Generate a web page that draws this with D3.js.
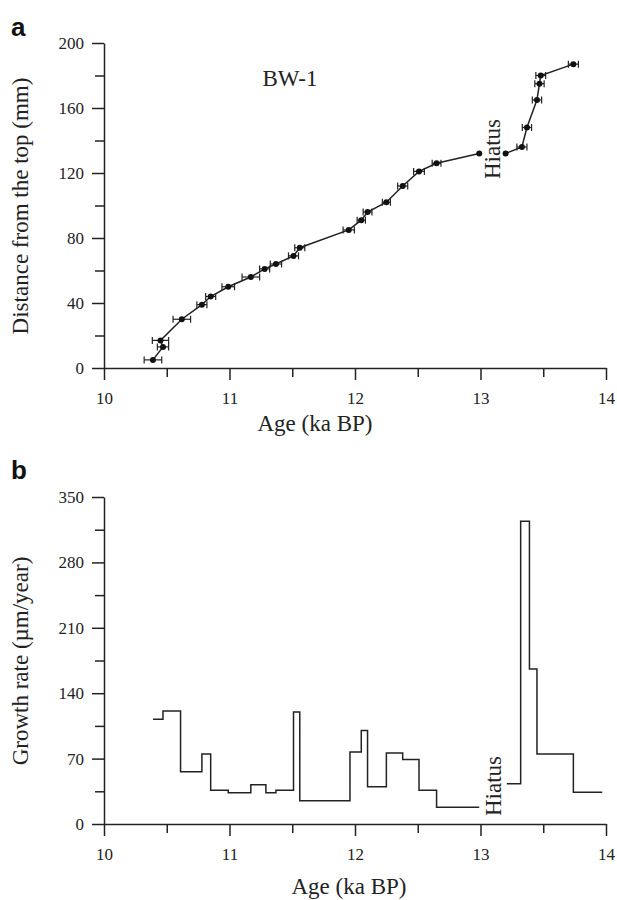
<!DOCTYPE html>
<html>
<head>
<meta charset="utf-8">
<script src="https://cdn.jsdelivr.net/npm/d3@7"></script>
<style>
body {margin:0; background:#fff;}
.axis path, .axis line {stroke:#222; stroke-width:1.5px; fill:none;}
.axis text {font-family:'Liberation Serif',serif; font-size:17px; fill:#222;}
.label {font-family:'Liberation Serif',serif; font-size:23px; fill:#222;}
.panel {font-family:'Liberation Sans',Arial,sans-serif; font-weight:bold; font-size:26px; fill:#111;}
.curve {fill:none; stroke:#222; stroke-width:1.5px;}
.errbar {stroke:#222; stroke-width:1.2px;}
</style>
</head>
<body>
<div id="chart"></div>
<script>
// panel a : age model (BW-1)
var ageA   = [10.39, 10.47, 10.45, 10.62, 10.78, 10.85, 10.99, 11.17, 11.28, 11.37, 11.51, 11.56, 11.95, 12.05, 12.10, 12.25, 12.38, 12.51, 12.65, 12.99, 13.20, 13.33, 13.37, 13.45, 13.47, 13.48, 13.74]
var depthA = [5, 13, 17, 30, 39, 44, 50, 56, 61, 64, 69, 74, 85, 91, 96, 102, 112, 121, 126, 132, 132, 136, 148, 165, 175, 180, 187]
var errA   = [0.07, 0.045, 0.065, 0.07, 0.04, 0.04, 0.05, 0.07, 0.04, 0.045, 0.04, 0.04, 0.045, 0.033, 0.035, 0.032, 0.04, 0.043, 0.035, 0, 0, 0.04, 0.037, 0.037, 0.037, 0.039, 0.04]
var hiatusIndex = 20   // first point after the hiatus

// panel b : growth rate steps, rateB[i] holds from breaksB[i] to breaksB[i+1]
var breaksB = [10.39, 10.47, 10.61, 10.78, 10.85, 10.99, 11.17, 11.29, 11.37, 11.51, 11.56, 11.96, 12.05, 12.10, 12.25, 12.38, 12.51, 12.65, 12.99, 13.21, 13.32, 13.39, 13.45, 13.74, 13.97]
var rateB   = [112, 121, 56, 75, 36, 33.5, 42, 33.5, 36, 120, 25, 77, 100, 40, 76, 69, 36, 18, null, 43, 324, 166, 75, 34]

var xTicks  = [10, 10.5, 11, 11.5, 12, 12.5, 13, 13.5, 14]
var yTicksA = [0, 20, 40, 60, 80, 100, 120, 140, 160, 180, 200]
var yTicksB = [0, 35, 70, 105, 140, 175, 210, 245, 280, 315, 350]

var xAxisLabel = 'Age (ka BP)'
var yAxisLabelA = 'Distance from the top (mm)'
var yAxisLabelB = 'Growth rate (\u00b5m/year)'

var svg = d3.select('#chart')
            .append('svg')
            .attr('width', 617)
            .attr('height', 900);

var left = 104, right = 606;

function DrawXAxis(g, xScale, y0) {
    var ax = g.append('g')
        .attr('class', 'x axis')
        .attr('transform', 'translate(0,' + y0 + ')')
        .call(d3.axisBottom(xScale).tickValues(xTicks).tickSize(12).tickPadding(12).tickSizeOuter(0)
              .tickFormat(function(d) { return d % 1 === 0 ? d : ''; }));
    ax.selectAll('.tick line').attr('y2', function(d) { return d % 1 === 0 ? 12 : 9; });
}

function DrawYAxis(g, yScale, ticks, major) {
    var ax = g.append('g')
        .attr('class', 'y axis')
        .attr('transform', 'translate(' + left + ',0)')
        .call(d3.axisLeft(yScale).tickValues(ticks).tickSize(12).tickPadding(8).tickSizeOuter(0)
              .tickFormat(function(d) { return d % major === 0 ? d : ''; }));
    ax.selectAll('.tick line').attr('x2', function(d) { return d % major === 0 ? -12 : -9; });
}

function DrawPanelA() {
    var xScale = d3.scaleLinear().domain([10, 14]).range([left, right]);
    var yScale = d3.scaleLinear().domain([0, 200]).range([368, 43]);
    var g = svg.append('g');

    DrawXAxis(g, xScale, 368);
    DrawYAxis(g, yScale, yTicksA, 40);

    var points = ageA.map(function(a, i) { return {age: a, depth: depthA[i], err: errA[i], idx: i}; });
    var line = d3.line()
        .x(function(d) { return xScale(d.age); })
        .y(function(d) { return yScale(d.depth); });

    g.append('path').attr('class', 'curve').attr('d', line(points.slice(0, hiatusIndex)));
    g.append('path').attr('class', 'curve').attr('d', line(points.slice(hiatusIndex)));

    var bars = g.selectAll('.err')
        .data(points.filter(function(d) { return d.err > 0; }))
        .enter()
        .append('g')
        .attr('class', 'err');
    bars.append('line').attr('class', 'errbar')
        .attr('x1', function(d) { return xScale(d.age - d.err); })
        .attr('x2', function(d) { return xScale(d.age + d.err); })
        .attr('y1', function(d) { return yScale(d.depth); })
        .attr('y2', function(d) { return yScale(d.depth); });
    [-1, 1].forEach(function(s) {
        bars.append('line').attr('class', 'errbar')
            .attr('x1', function(d) { return xScale(d.age + s * d.err); })
            .attr('x2', function(d) { return xScale(d.age + s * d.err); })
            .attr('y1', function(d) { return yScale(d.depth) - 3.5; })
            .attr('y2', function(d) { return yScale(d.depth) + 3.5; });
    });

    g.selectAll('.dot')
        .data(points)
        .enter()
        .append('circle')
        .attr('class', 'dot')
        .attr('cx', function(d) { return xScale(d.age); })
        .attr('cy', function(d) { return yScale(d.depth); })
        .attr('r', 3)
        .attr('fill', '#111');

    g.append('text').attr('class', 'label')
        .attr('x', 290).attr('y', 86)
        .style('text-anchor', 'middle')
        .text('BW-1');
    g.append('text').attr('class', 'label')
        .attr('transform', 'translate(500,149) rotate(-90)')
        .style('text-anchor', 'middle')
        .text('Hiatus');
    g.append('text').attr('class', 'label')
        .attr('x', 315).attr('y', 431)
        .style('text-anchor', 'middle')
        .text(xAxisLabel);
    g.append('text').attr('class', 'label')
        .attr('transform', 'translate(28,206) rotate(-90)')
        .style('text-anchor', 'middle')
        .text(yAxisLabelA);
    g.append('text').attr('class', 'panel')
        .attr('x', 11).attr('y', 36)
        .text('a');
}

function DrawPanelB() {
    var xScale = d3.scaleLinear().domain([10, 14]).range([left, right]);
    var yScale = d3.scaleLinear().domain([0, 350]).range([824, 497]);
    var g = svg.append('g');

    DrawXAxis(g, xScale, 824);
    DrawYAxis(g, yScale, yTicksB, 70);

    // step points, with a null separator at the hiatus
    var steps = [];
    rateB.forEach(function(r, i) {
        if (r === null) { steps.push(null); return; }
        steps.push({age: breaksB[i], rate: r});
        steps.push({age: breaksB[i + 1], rate: r});
    });
    var line = d3.line()
        .defined(function(d) { return d !== null; })
        .x(function(d) { return xScale(d.age); })
        .y(function(d) { return yScale(d.rate); });
    g.append('path').attr('class', 'curve').attr('d', line(steps));

    g.append('text').attr('class', 'label')
        .attr('transform', 'translate(501,786) rotate(-90)')
        .style('text-anchor', 'middle')
        .text('Hiatus');
    g.append('text').attr('class', 'label')
        .attr('x', 349).attr('y', 894)
        .style('text-anchor', 'middle')
        .text(xAxisLabel);
    g.append('text').attr('class', 'label')
        .attr('transform', 'translate(28,661) rotate(-90)')
        .style('text-anchor', 'middle')
        .text(yAxisLabelB);
    g.append('text').attr('class', 'panel')
        .attr('x', 11).attr('y', 479)
        .text('b');
}

DrawPanelA();
DrawPanelB();
</script>
</body>
</html>
